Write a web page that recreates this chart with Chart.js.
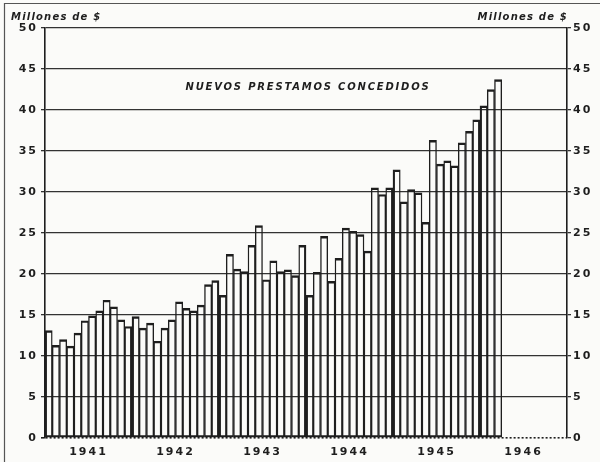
<!DOCTYPE html>
<html>
<head>
<meta charset="utf-8">
<script src="https://cdn.jsdelivr.net/npm/chart.js@4.4.0/dist/chart.umd.min.js"></script>
<style>
  html, body { margin: 0; padding: 0; background: #fbfbf9; }
  #wrap { position: relative; width: 600px; height: 462px; }
  canvas { display: block; }
</style>
</head>
<body>
<div id="wrap"><canvas id="c" width="600" height="462"></canvas></div>
<script>
// ---- data (millones de $, mensual) ----
const years = ['1941', '1942', '1943', '1944', '1945', '1946'];
const monthNames = ['Ene', 'Feb', 'Mar', 'Abr', 'May', 'Jun', 'Jul', 'Ago', 'Sep', 'Oct', 'Nov', 'Dic'];
const loans1941 = [13.1, 11.3, 12.0, 11.2, 12.8, 14.3, 14.9, 15.5, 16.8, 16.0, 14.4, 13.6];
const loans1942 = [14.8, 13.4, 14.0, 11.8, 13.4, 14.4, 16.6, 15.8, 15.5, 16.2, 18.7, 19.2];
const loans1943 = [17.4, 22.4, 20.6, 20.3, 23.5, 25.9, 19.3, 21.6, 20.3, 20.5, 19.8, 23.5];
const loans1944 = [17.4, 20.2, 24.6, 19.1, 21.9, 25.6, 25.2, 24.8, 22.8, 30.5, 29.7, 30.5];
const loans1945 = [32.7, 28.8, 30.3, 29.9, 26.3, 36.3, 33.4, 33.8, 33.2, 36.0, 37.4, 38.8];
const loans1946 = [40.5, 42.5, 43.7];
const yMin = 0, yMax = 50, yStep = 5;
const unitLabel = 'Millones de $';
const chartTitle = 'NUEVOS PRESTAMOS CONCEDIDOS';

// categories: one per month, 1941–1946
const categories = [];
years.forEach(y => monthNames.forEach(m => categories.push(m + ' ' + y)));
const series = [].concat(loans1941, loans1942, loans1943, loans1944, loans1945, loans1946);
while (series.length < categories.length) series.push(null);

const INK = '#1e1e1e';
const GRID = '#333333';

const decor = {
  id: 'decor',
  beforeDraw(chart) {
    const ctx = chart.ctx;
    ctx.save();
    ctx.fillStyle = '#fbfbf9';
    ctx.fillRect(0, 0, chart.width, chart.height);
    // outer frame (top + left)
    ctx.strokeStyle = '#555';
    ctx.lineWidth = 1.2;
    ctx.beginPath();
    ctx.moveTo(4.5, chart.height);
    ctx.lineTo(4.5, 3.5);
    ctx.lineTo(chart.width, 3.5);
    ctx.stroke();
    ctx.restore();
    ctx.letterSpacing = '2px';
  },
  afterDraw(chart) {
    const ctx = chart.ctx;
    const a = chart.chartArea;
    ctx.save();
    ctx.fillStyle = INK;
    ctx.letterSpacing = '1.2px';
    ctx.font = 'italic bold 10px "DejaVu Sans"';
    ctx.textBaseline = 'middle';
    ctx.textAlign = 'left';
    ctx.fillText(unitLabel, 11, 17);
    ctx.textAlign = 'right';
    ctx.fillText(unitLabel, a.right + 1, 17);
    ctx.letterSpacing = '1.8px';
    ctx.textAlign = 'center';
    ctx.fillText(chartTitle, (a.left + a.right) / 2 + 2, 87);
    ctx.restore();
  }
};

const tickFont = { family: '"DejaVu Sans"', size: 11, weight: 'bold' };

new Chart(document.getElementById('c'), {
  type: 'bar',
  data: {
    labels: categories,
    datasets: [{
      data: series,
      backgroundColor: 'rgba(0,0,0,0)',
      borderColor: INK,
      borderSkipped: false,
      borderWidth: (ctx) => {
        const i = ctx.dataIndex;
        return {
          top: 1.8,
          bottom: 1.6,
          left: (i % 12 === 0) ? 1.6 : 0.75,
          right: (i % 12 === 11) ? 1.6 : 0.75
        };
      },
      barPercentage: 1,
      categoryPercentage: 1
    }]
  },
  options: {
    responsive: false,
    animation: false,
    devicePixelRatio: 1,
    layout: { padding: { top: 28, left: 0, right: 0, bottom: 0 } },
    plugins: { legend: { display: false }, tooltip: { enabled: false }, title: { display: false } },
    scales: {
      x: {
        type: 'category',
        position: 'bottom',
        offset: true,
        grid: { display: false, drawTicks: false },
        border: { display: false },
        ticks: { display: false },
        afterFit(s) { s.height = 0; }
      },
      x2: {
        type: 'category',
        position: 'bottom',
        labels: years,
        offset: true,
        grid: { display: false, drawTicks: false },
        border: { display: false },
        ticks: { color: INK, font: tickFont, padding: 8, autoSkip: false, maxRotation: 0 },
        afterFit(s) { s.height = 24; }
      },
      y: {
        position: 'left',
        min: yMin, max: yMax,
        ticks: { stepSize: yStep, color: INK, font: tickFont, padding: 3 },
        grid: {
          color: (c) => (c.tick && c.tick.value === 0) ? INK : GRID,
          lineWidth: (c) => (c.tick && c.tick.value === 0) ? 1.6 : 1.3,
          tickLength: 4
        },
        border: {
          color: INK, width: 1.6,
          dash: (c) => (c.tick && c.tick.value === 0) ? [2, 2] : []
        },
        afterFit(s) { s.width = 45; }
      },
      y2: {
        position: 'right',
        min: yMin, max: yMax,
        ticks: { stepSize: yStep, color: INK, font: tickFont, padding: 2 },
        grid: { drawOnChartArea: false, color: GRID, lineWidth: 1.3, tickLength: 4 },
        border: { color: INK, width: 1.6 },
        afterFit(s) { s.width = 33; }
      }
    }
  },
  plugins: [decor]
});
</script>
</body>
</html>
